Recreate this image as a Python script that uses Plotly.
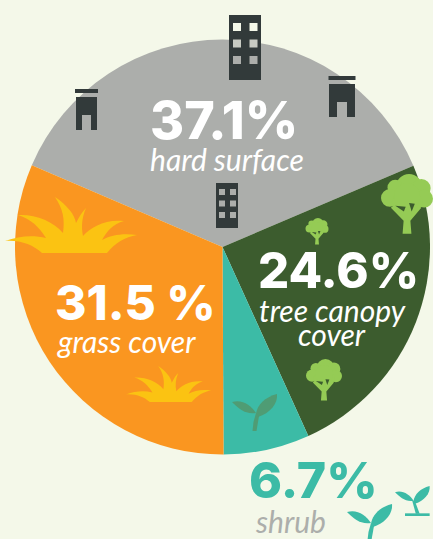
import plotly.graph_objects as go

WIDTH, HEIGHT = 433, 539

categories = ["hard surface", "tree canopy cover", "shrub", "grass cover"]
shares = [37.1, 24.6, 6.7, 31.5]
slice_colors = ["#ACAEAB", "#3C5C2E", "#3CBBA6", "#FA9620"]

BACKGROUND = "#F4F8E9"
DARK = "#323A3A"
LEAF = "#95CB55"
CANOPY_SLICE = "#3C5C2E"
GOLD = "#FBC312"
TEAL = "#3CBBA6"
SPROUT_DIM = "#4F9C74"

CENTER = (222.5, 247.0)
RADIUS = 207.5


def px(x):
    return x / WIDTH


def py(y):
    return 1 - y / HEIGHT


def to_path(commands):
    """Build an SVG path in paper units from pixel-based (cmd, x, y, ...) tuples."""
    parts = []
    for cmd in commands:
        if cmd[0] == "Z":
            parts.append("Z")
            continue
        nums = cmd[1:]
        coords = []
        for i in range(0, len(nums), 2):
            coords.append(f"{px(nums[i]):.5f},{py(nums[i + 1]):.5f}")
        parts.append(cmd[0] + " ".join(coords))
    return " ".join(parts)


shapes = []


def fill_shape(commands, color):
    shapes.append(dict(type="path", xref="paper", yref="paper", path=to_path(commands),
                       fillcolor=color, line=dict(width=0), layer="above"))


def rect(x0, y0, x1, y1, color):
    shapes.append(dict(type="rect", xref="paper", yref="paper", x0=px(x0), x1=px(x1),
                       y0=py(y1), y1=py(y0), fillcolor=color, line=dict(width=0), layer="above"))


def tower(x0, y0, w, h, cols, rows, win, first_y, step_x, step_y, inset, pane):
    rect(x0, y0, x0 + w, y0 + h, DARK)
    for r in range(rows):
        for c in range(cols):
            wx = x0 + inset + c * step_x
            wy = y0 + first_y + r * step_y
            color = pane[r] if isinstance(pane, list) else pane
            rect(wx, wy, wx + win, wy + win, color)


def shelter(x0, y0, w, h, roof_over, door_w, door_h):
    # flat-roofed building with a notch for the doorway
    rect(x0 - roof_over, y0 - 8, x0 + w + roof_over, y0 - 4, DARK)
    door_x = x0 + (w - door_w) / 2
    fill_shape([("M", x0, y0), ("L", x0 + w, y0), ("L", x0 + w, y0 + h),
                ("L", door_x + door_w, y0 + h), ("L", door_x + door_w, y0 + h - door_h),
                ("L", door_x, y0 + h - door_h), ("L", door_x, y0 + h), ("L", x0, y0 + h), ("Z",)], DARK)


def tree(cx, top, s):
    """Lobed canopy on a forked trunk; s is the canopy half-width in pixels."""
    for x, y, r in [(0.08, 0.5, 0.5), (-0.45, 0.52, 0.3), (0.55, 0.55, 0.36),
                    (-0.66, 0.92, 0.34), (0.66, 0.95, 0.34), (-0.28, 1.08, 0.3),
                    (0.3, 1.08, 0.3), (0, 0.85, 0.5)]:
        shapes.append(dict(type="circle", xref="paper", yref="paper",
                           x0=px(cx + (x - r) * s), x1=px(cx + (x + r) * s),
                           y0=py(top + (y + r) * s), y1=py(top + (y - r) * s),
                           fillcolor=LEAF, line=dict(width=0), layer="above"))
    # forked trunk, flaring slightly at the ground
    fill_shape([("M", cx - 0.17 * s, top + 2.3 * s), ("L", cx + 0.17 * s, top + 2.3 * s),
                ("L", cx + 0.13 * s, top + 1.8 * s), ("L", cx + 0.55 * s, top + 1.3 * s),
                ("L", cx + 0.42 * s, top + 1.2 * s), ("L", cx - 0.5 * s, top + 1.2 * s),
                ("L", cx - 0.62 * s, top + 1.3 * s), ("L", cx - 0.13 * s, top + 1.8 * s), ("Z",)], LEAF)
    # dark wedges between the branches
    fill_shape([("M", cx - 0.45 * s, top + 1.22 * s), ("L", cx - 0.05 * s, top + 1.26 * s),
                ("L", cx - 0.12 * s, top + 1.44 * s), ("Z",)], CANOPY_SLICE)
    fill_shape([("M", cx + 0.08 * s, top + 1.12 * s), ("L", cx + 0.3 * s, top + 1.14 * s),
                ("L", cx + 0.18 * s, top + 1.44 * s), ("Z",)], CANOPY_SLICE)


def grass(x0, y0, s, color=GOLD):
    """Tuft of curved blades; coordinates are offsets from (x0, y0) scaled by s."""
    def p(dx, dy):
        return (x0 + dx * s, y0 + dy * s)
    fill_shape([
        ("M", *p(37, 56)),
        ("C", *p(28, 48), *p(16, 43), *p(0, 44)),
        ("C", *p(14, 39), *p(28, 38), *p(41, 41)),
        ("C", *p(34, 30), *p(26, 22), *p(13, 18)),
        ("C", *p(30, 17), *p(48, 24), *p(58, 36)),
        ("C", *p(60, 22), *p(58, 12), *p(50, 0)),
        ("C", *p(62, 8), *p(70, 18), *p(71, 26)),
        ("C", *p(74, 20), *p(77, 15), *p(81, 11)),
        ("C", *p(77, 20), *p(76, 30), *p(78, 39)),
        ("C", *p(86, 30), *p(100, 22), *p(119, 24)),
        ("C", *p(108, 27), *p(102, 34), *p(97, 43)),
        ("C", *p(106, 38), *p(118, 36), *p(132, 38)),
        ("C", *p(120, 40), *p(110, 46), *p(102, 56)),
        ("Z",),
    ], color)


def sprout(x0, y0, s, color, stem_bottom=37, ground=False):
    """Two-leaf seedling; coordinates are offsets from (x0, y0) scaled by s."""
    def p(dx, dy):
        return (x0 + dx * s, y0 + dy * s)
    fill_shape([("M", *p(24, 19)),
                ("C", *p(19, 11), *p(10, 5), *p(0, 8)),
                ("C", *p(6, 14), *p(14, 21), *p(24, 19)), ("Z",)], color)
    fill_shape([("M", *p(24, 20)),
                ("C", *p(25, 11), *p(33, 3), *p(45, 0)),
                ("C", *p(46, 10), *p(38, 19), *p(26, 23)), ("Z",)], color)
    if ground:
        fill_shape([("M", *p(22, 18)), ("L", *p(26, 20)), ("L", *p(32, 36)),
                    ("L", *p(27, 36)), ("Z",)], color)
        fill_shape([("M", *p(13, 35.5)), ("L", *p(45, 35.5)), ("L", *p(45, 39)),
                    ("L", *p(13, 39)), ("Z",)], color)
    else:
        fill_shape([("M", *p(20.5, stem_bottom)), ("L", *p(24.5, stem_bottom)),
                    ("L", *p(27, 22)), ("L", *p(24, 19)), ("L", *p(21.5, 28)), ("Z",)], color)


# Tall building straddling the rim, with panes that pick up what sits behind them
tower(229, 15, 32, 65, 2, 3, 8, 8, 16.5, 16.5, 4,
      [BACKGROUND, "#C8CBC3", "#ACAEAB"])
# Small building at the base of the grey slice
tower(216, 183, 22, 45, 2, 3, 6, 6, 11, 11.5, 3, "#ACAEAB")
# Low buildings along the rim
shelter(76, 97, 21, 33, 1, 9, 15)
shelter(329, 84, 26, 33, 0.5, 10, 15)

# Trees on the dark green slice
tree(407, 174, 26)
tree(317, 218, 11.5)
tree(324, 359, 18)

# Grass tufts on the orange slice
grass(5, 197, 1.0)
grass(126, 366, 0.645)

# Seedlings
sprout(232, 394, 1.0, SPROUT_DIM)
sprout(347, 504, 1.0, TEAL, stem_bottom=36)
sprout(395, 486, 0.77, TEAL, ground=True)

CAPTION_SIZE = 30
texts = [
    (224, 120, "37.1%", 52, "#FFFFFF", False),
    (227, 159, "hard surface", CAPTION_SIZE, "#FFFFFF", True),
    (338, 270, "24.6%", 49, "#FFFFFF", False),
    (332, 310, "tree canopy", CAPTION_SIZE, "#FFFFFF", True),
    (332, 334, "cover", CAPTION_SIZE, "#FFFFFF", True),
    (135, 302, "31.5 %", 48, "#FFFFFF", False),
    (126, 341, "grass cover", CAPTION_SIZE, "#FFFFFF", True),
    (313, 480, "6.7%", 50, TEAL, False),
    (290, 521, "shrub", CAPTION_SIZE, "#ACAEAB", True),
]

annotations = [
    dict(x=px(x), y=py(y), xref="paper", yref="paper", text=t,
         showarrow=False, xanchor="center", yanchor="middle",
         font=dict(family="Lato" if italic else "Inter", size=size, color=color,
                   style="italic" if italic else "normal",
                   weight=400 if italic else 800))
    for x, y, t, size, color, italic in texts
]

fig = go.Figure(go.Pie(
    labels=categories,
    values=shares,
    marker=dict(colors=slice_colors, line=dict(width=0)),
    sort=False,
    direction="clockwise",
    rotation=-66.78,
    textinfo="none",
    hoverinfo="label+percent",
    showlegend=False,
    domain=dict(x=[px(CENTER[0] - RADIUS), px(CENTER[0] + RADIUS)],
                y=[py(CENTER[1] + RADIUS), py(CENTER[1] - RADIUS)]),
))

fig.update_layout(
    width=WIDTH,
    height=HEIGHT,
    margin=dict(l=0, r=0, t=0, b=0),
    paper_bgcolor=BACKGROUND,
    plot_bgcolor=BACKGROUND,
    shapes=shapes,
    annotations=annotations,
)

fig.write_html("out.html", config=dict(displayModeBar=False))
